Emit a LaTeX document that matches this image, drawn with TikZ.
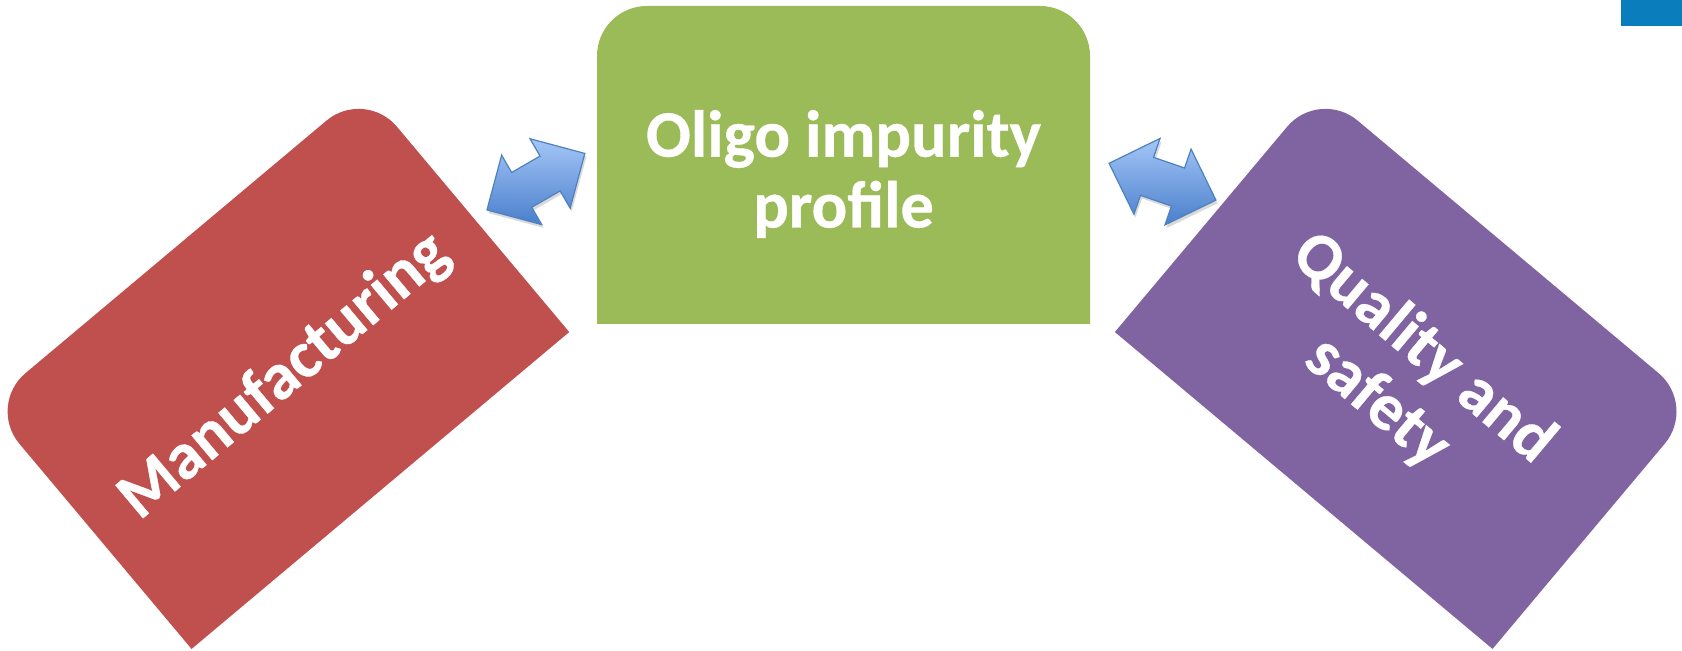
\documentclass[tikz,border=0pt]{standalone}
\usepackage{fontspec}
\setmainfont{Carlito}[BoldFeatures={FakeBold=0.5}]
\usetikzlibrary{shapes.arrows,shadows}

\definecolor{mfgred}{HTML}{C0504D}
\definecolor{oligogreen}{HTML}{9BBB59}
\definecolor{qualpurple}{HTML}{8064A2}
\definecolor{linkedge}{HTML}{4F81BD}
\definecolor{linktop}{HTML}{A4C6F7}
\definecolor{linkbottom}{HTML}{4A7FCC}
\definecolor{cornerblue}{HTML}{0A7DBD}

\tikzset{
  tagtext/.style={text=white, font=\bfseries\fontsize{33.2}{35.4}\selectfont, align=center},
  linkarrow/.style={double arrow, draw=linkedge, line width=0.6pt,
    top color=linktop, bottom color=linkbottom,
    inner sep=9.75pt, double arrow head extend=10pt, minimum height=56.5pt,
    drop shadow={fill=black!50, opacity=0.3, shadow xshift=0.8pt, shadow yshift=-1.6pt}},
}

% tag shape: rounded on its upper side only
\newcommand{\tagshape}[3]{%
  \begin{scope}[shift={#1}, rotate=#2]
    \fill[#3] (-123.25pt,-79.5pt) -- (-123.25pt,54.5pt)
      arc[start angle=180, end angle=90, radius=25pt] -- (98.25pt,79.5pt)
      arc[start angle=90, end angle=0, radius=25pt] -- (123.25pt,-79.5pt) -- cycle;
  \end{scope}}

\begin{document}
\begin{tikzpicture}
\useasboundingbox (0,0) rectangle (841pt,325.5pt);

\tagshape{(139.1pt,141.15pt)}{40}{mfgred}
\tagshape{(421.75pt,243pt)}{0}{oligogreen}
\tagshape{(702.95pt,141.15pt)}{-40}{qualpurple}

\begin{scope}[shift={(139.1pt,141.15pt)}, rotate=40]
  \node[tagtext, rotate=40] (manuf) at (0,-5pt) {Manufacturing};
\end{scope}
\node[tagtext] (oligo) at (421.75pt,238.5pt) {Oligo impurity\\profile};
\begin{scope}[shift={(702.95pt,141.15pt)}, rotate=-40]
  \node[tagtext, rotate=-40] (quality) at (0,-4.5pt) {Quality and\\safety};
\end{scope}

\node[linkarrow, rotate=30] (leftlink) at (267.95pt,234.65pt) {};
\node[linkarrow, rotate=-19] (rightlink) at (581.25pt,234.65pt) {};

\fill[cornerblue] (810.5pt,312.5pt) rectangle (841pt,325.5pt);
\end{tikzpicture}
\end{document}
